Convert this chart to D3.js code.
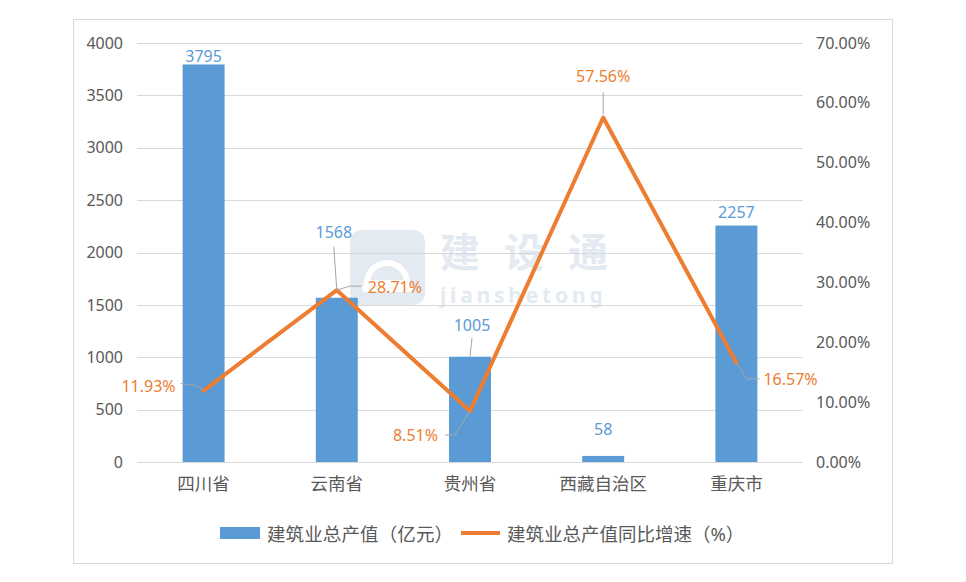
<!DOCTYPE html>
<html><head><meta charset="utf-8">
<script src="https://cdn.jsdelivr.net/npm/d3@7"></script>
<style>
html,body{margin:0;padding:0;background:#fff;}
svg{display:block;}
text{font-family:"Noto Sans","Noto Sans CJK SC",sans-serif;}
</style></head>
<body>
<svg id="chart" width="966" height="582"></svg>
<script>
// ---- data ----
const categories = ["四川省","云南省","贵州省","西藏自治区","重庆市"];
const outputValues = [3795, 1568, 1005, 58, 2257];          // 建筑业总产值（亿元）
const growthRates = [0.1193, 0.2871, 0.0851, 0.5756, 0.1657]; // 同比增速
const leftTicks = [0,500,1000,1500,2000,2500,3000,3500,4000];
const rightTicks = [0,0.1,0.2,0.3,0.4,0.5,0.6,0.7];
const seriesNames = ["建筑业总产值（亿元）","建筑业总产值同比增速（%）"];

// ---- layout (label placement, not data) ----
const barLabelDy = [-8, -66, -32, -27, -14];
const lineLabelPos = [
  {dx:-28, dy:-5, anchor:"end"},
  {dx:31, dy:-3, anchor:"start"},
  {dx:-32, dy:24, anchor:"end"},
  {dx:0, dy:-41, anchor:"middle"},
  {dx:27, dy:16, anchor:"start"}
];
const lineLeaders = [
  [[-23,-7],[-7,-5],[0,0]],
  [[0,0],[13,-4],[25,-4]],
  [[-25,24],[-15,24],[0,0]],
  [[0,-25],[0,-3]],
  [[0,0],[10,16],[23,16]]
];

const BLUE = "#5B9BD5", ORANGE = "#ED7D31", GRID = "#d9d9d9", TXT = "#595959", LEAD = "#a6a6a6";
const svg = d3.select("#chart");

// outer border
svg.append("rect").attr("x",73.5).attr("y",19.5).attr("width",819).attr("height",544)
  .attr("fill","#fff").attr("stroke",GRID).attr("stroke-width",1);

const x = d3.scaleBand().domain(categories).range([137,803]).paddingInner(0.685).paddingOuter(0.3425);
const yL = d3.scaleLinear().domain([0,4000]).range([462,43]);
const yR = d3.scaleLinear().domain([0,0.7]).range([462,43]);

// gridlines
svg.append("g").selectAll("line").data(leftTicks).join("line")
  .attr("x1",137).attr("x2",803)
  .attr("y1",d=>Math.round(yL(d))+0.5).attr("y2",d=>Math.round(yL(d))+0.5)
  .attr("stroke",GRID).attr("stroke-width",1);

// left axis
const gL = svg.append("g").attr("transform","translate(137,0)")
  .call(d3.axisLeft(yL).tickValues(leftTicks).tickSize(0).tickPadding(14).tickFormat(d3.format("d")));
gL.select(".domain").remove();
gL.selectAll("text").attr("fill",TXT).style("font-size","16px").attr("font-family",null);

// right axis
const gR = svg.append("g").attr("transform","translate(803,0)")
  .call(d3.axisRight(yR).tickValues(rightTicks).tickSize(0).tickPadding(13).tickFormat(d3.format(".2%")));
gR.select(".domain").remove();
gR.selectAll("text").attr("fill",TXT).style("font-size","16px").attr("font-family",null);

// bottom axis
const gB = svg.append("g").attr("transform","translate(0,462)")
  .call(d3.axisBottom(x).tickSize(0).tickPadding(16));
gB.select(".domain").remove();
gB.selectAll("text").attr("fill",TXT).style("font-size","17.5px").attr("font-family",null);

// watermark
const wm = svg.append("g").attr("opacity",0.5);
wm.append("rect").attr("x",350).attr("y",230).attr("width",75).attr("height",75).attr("rx",12)
  .attr("fill","#c8d6e5");
wm.append("path").attr("d","M367,283 A20,20 0 0 1 407,283 Z").attr("fill","none").attr("stroke","#fff").attr("stroke-width",6);
wm.append("rect").attr("x",362).attr("y",285).attr("width",50).attr("height",7).attr("rx",2).attr("fill","#fff");
wm.append("text").attr("x",440).attr("y",267).text("建设通")
  .attr("fill","#c8d6e5").style("font-weight","bold")
  .style("font-size","40px").attr("font-family","\"Noto Sans CJK SC\",sans-serif")
  .attr("letter-spacing","24px");
wm.append("text").attr("x",440).attr("y",303).text("jianshetong")
  .attr("fill","#c8d6e5").style("font-weight","bold")
  .style("font-size","21px").attr("letter-spacing","3.8px");

// bars
svg.append("g").selectAll("rect").data(outputValues).join("rect")
  .attr("x",(d,i)=>x(categories[i])).attr("width",x.bandwidth())
  .attr("y",d=>yL(d)).attr("height",d=>yL(0)-yL(d)).attr("fill",BLUE);

// line
const cx = i => x(categories[i]) + x.bandwidth()/2;
const line = d3.line().x((d,i)=>cx(i)).y(d=>yR(d));
svg.append("path").datum(growthRates).attr("d",line)
  .attr("fill","none").attr("stroke",ORANGE).attr("stroke-width",4)
  .attr("stroke-linejoin","round").attr("stroke-linecap","round");

// leaders for line labels
const lg = svg.append("g");
growthRates.forEach((v,i)=>{
  const px = cx(i), py = yR(v);
  lg.append("path").attr("d", d3.line()(lineLeaders[i].map(p=>[px+p[0],py+p[1]])))
    .attr("fill","none").attr("stroke",LEAD).attr("stroke-width",1);
});
// leaders for bar labels (云南省, 贵州省)
[1,2].forEach(i=>{
  const px = cx(i);
  const ly = yL(outputValues[i]) + barLabelDy[i] + 12;
  const endY = i===1 ? yR(growthRates[i]) : yL(outputValues[i]);
  lg.append("line").attr("x1",px-3+ (i===2?5:0)).attr("y1",ly+ (i===1?3:1)).attr("x2",px).attr("y2",endY)
    .attr("stroke",LEAD).attr("stroke-width",1);
});

// bar labels
svg.append("g").selectAll("text").data(outputValues).join("text")
  .attr("x",(d,i)=>cx(i)+(i===2?2:0)-(i===1?3:0)).attr("y",(d,i)=>yL(d)+barLabelDy[i])
  .attr("text-anchor","middle").attr("dominant-baseline","central")
  .attr("fill",BLUE).style("font-size","16px").text(d=>d);

// line labels
svg.append("g").selectAll("text").data(growthRates).join("text")
  .attr("x",(d,i)=>cx(i)+lineLabelPos[i].dx).attr("y",(d,i)=>yR(d)+lineLabelPos[i].dy)
  .attr("text-anchor",(d,i)=>lineLabelPos[i].anchor).attr("dominant-baseline","central")
  .attr("fill",ORANGE).style("font-size","16px").text(d=>d3.format(".2%")(d));

// legend
const leg = svg.append("g");
leg.append("rect").attr("x",220).attr("y",527).attr("width",40).attr("height",12).attr("fill",BLUE);
leg.append("text").attr("x",267).attr("y",533).attr("dominant-baseline","central")
  .attr("fill",TXT).style("font-size","18.5px").attr("textLength",186).attr("lengthAdjust","spacing")
  .text(seriesNames[0]);
leg.append("line").attr("x1",461).attr("x2",500).attr("y1",533).attr("y2",533)
  .attr("stroke",ORANGE).attr("stroke-width",4);
leg.append("text").attr("x",507).attr("y",533).attr("dominant-baseline","central")
  .attr("fill",TXT).style("font-size","18.5px").text(seriesNames[1]);
</script>
</body></html>
